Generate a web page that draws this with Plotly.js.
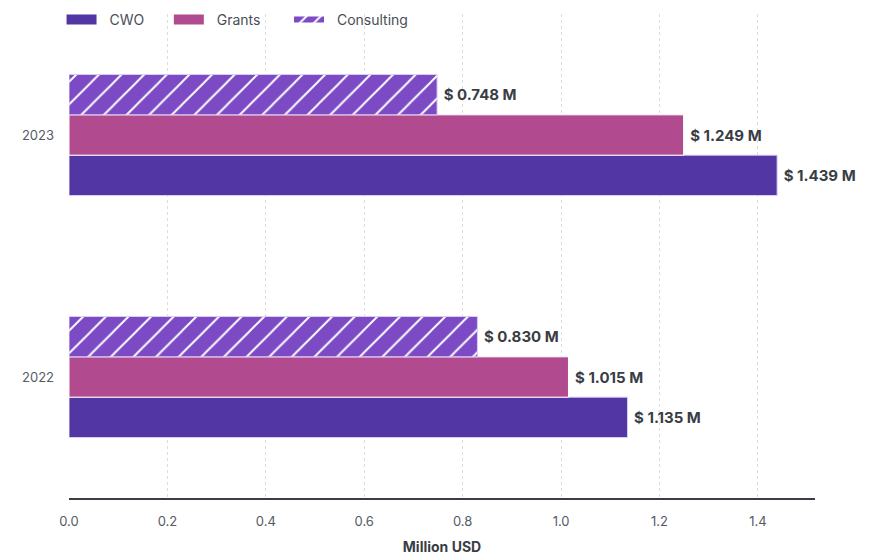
<!DOCTYPE html>
<html><head><meta charset="utf-8">
<script src="https://cdn.plot.ly/plotly-3.0.1.min.js"></script>
<style>html,body{margin:0;padding:0;background:#fff}#chart{width:879px;height:555px}</style>
</head><body><div id="chart"></div>
<script>
const years = ["2022", "2023"];
const cwo = [1.135, 1.439];
const grants = [1.015, 1.249];
const consulting = [0.830, 0.748];
const seriesNames = ["CWO", "Grants", "Consulting"];
const tickVals = [0, 0.2, 0.4, 0.6, 0.8, 1.0, 1.2, 1.4];
const tickText = ["0.0", "0.2", "0.4", "0.6", "0.8", "1.0", "1.2", "1.4"];

function lbl(arr){ return arr.map(v => "\u00a0$ " + v.toFixed(3) + " M"); }
const NB = "\u00a0";
function legName(n, trail){ return NB + NB + n + NB.repeat(trail); }

const common = {
  type: "bar", orientation: "h", y: years,
  textposition: "outside", cliponaxis: false,
  textfont: {family: "Inter", size: 15, color: "#3a3d45", weight: 700},
  hoverinfo: "skip", showlegend: false
};
const data = [
  Object.assign({}, common, {name: seriesNames[0], x: cwo, text: lbl(cwo),
    marker: {color: "#5236a3", line: {color: "#d9cdf2", width: 1}}}),
  Object.assign({}, common, {name: seriesNames[1], x: grants, text: lbl(grants),
    marker: {color: "#b24a8f", line: {color: "#ffffff", width: 1}}}),
  Object.assign({}, common, {name: seriesNames[2], x: consulting, text: lbl(consulting),
    marker: {color: "#7b4ac4", line: {color: "#d9cdf2", width: 1},
      pattern: {shape: "/", fgcolor: "#ffffff", bgcolor: "#7b4ac4", size: 16, solidity: 0.12, fillmode: "replace"}}}),
  {type: "scatter", mode: "lines", name: legName(seriesNames[0], 5), x: [null], y: [null], line: {color: "#5236a3", width: 10}, hoverinfo: "skip"},
  {type: "scatter", mode: "lines", name: legName(seriesNames[1], 6), x: [null], y: [null], line: {color: "#b24a8f", width: 10}, hoverinfo: "skip"},
  {type: "scatter", mode: "none", name: legName(seriesNames[2], 0), x: [null], y: [null], fill: "toself", fillcolor: "#7b4ac4",
    fillpattern: {shape: "/", fgcolor: "#ffffff", bgcolor: "#7b4ac4", size: 10, solidity: 0.2, fillmode: "replace"}, hoverinfo: "skip"}
];
const layout = {
  width: 879, height: 555,
  margin: {l: 69, r: 64, t: 14, b: 57, autoexpand: false},
  paper_bgcolor: "#ffffff", plot_bgcolor: "#ffffff",
  barmode: "group", bargap: 0.5, bargroupgap: 0,
  font: {family: "Inter", color: "#555b66", size: 13},
  showlegend: true,
  legend: {orientation: "h", x: -0.01, xanchor: "left", y: 0.9876, yanchor: "middle",
    font: {family: "Inter", size: 14, color: "#4a4e57"}, traceorder: "normal",
    bgcolor: "rgba(0,0,0,0)"},
  xaxis: {range: [0, 1.516], tickvals: tickVals, ticktext: tickText,
    showgrid: true, gridcolor: "#dddddd", griddash: "dot", gridwidth: 1,
    zeroline: false, showline: true, linecolor: "#3a3d45", linewidth: 2,
    ticks: "", ticklen: 0, ticklabelstandoff: 10, tickfont: {family: "Inter", size: 13, color: "#555b66"},
    title: {text: "Million USD", font: {family: "Inter", size: 14, color: "#3a3d45", weight: 700}, standoff: 22}},
  yaxis: {type: "category", showgrid: false, zeroline: false, showline: false, ticks: "",
    tickfont: {family: "Inter", size: 13, color: "#555b66"}, ticklabelstandoff: 14,
    range: [-0.5, 1.5]}
};
Plotly.newPlot("chart", data, layout, {displayModeBar: false, staticPlot: true});
</script></body></html>
